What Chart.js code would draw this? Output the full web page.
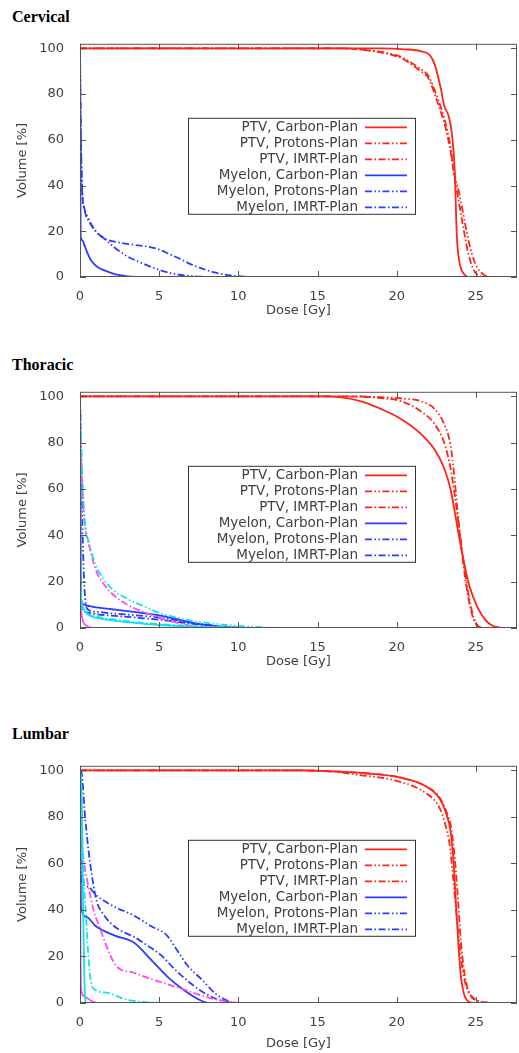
<!DOCTYPE html>
<html>
<head>
<meta charset="utf-8">
<script src="https://cdn.jsdelivr.net/npm/chart.js@4.4.1/dist/chart.umd.min.js"></script>
<style>
  html, body { margin: 0; padding: 0; background: #fff; }
  body { width: 519px; height: 1053px; position: relative; overflow: hidden; }
  .title { position: absolute; left: 12px; font: bold 16px "Liberation Serif", "Times New Roman", serif; line-height: 16px; color: #000; }
  .panel { position: absolute; left: 0; }
</style>
</head>
<body>
<div class="title" style="top:9px">Cervical</div>
<div class="title" style="top:357px">Thoracic</div>
<div class="title" style="top:726px">Lumbar</div>
<canvas id="cervical" class="panel" width="519" height="292" style="top:28px"></canvas>
<canvas id="thoracic" class="panel" width="519" height="295" style="top:376px"></canvas>
<canvas id="lumbar" class="panel" width="519" height="303" style="top:750px"></canvas>
<script>
// Axis ticks and legend text
const doseTicks = [0, 5, 10, 15, 20, 25];
const volumeTicks = [0, 20, 40, 60, 80, 100];
const legendLabels = [
  'PTV, Carbon-Plan', 'PTV, Protons-Plan', 'PTV, IMRT-Plan',
  'Myelon, Carbon-Plan', 'Myelon, Protons-Plan', 'Myelon, IMRT-Plan'
];

// DVH curves, [dose Gy, volume %]
// Cervical
const cervPtvCarbon = [[0,100],[19,100],[20.5,99.6],[21.5,98.8],[22.1,97],[22.4,93],[22.6,88],[22.8,82],[23.0,75],[23.3,70],[23.5,62],[23.67,46],[23.8,18],[23.95,7],[24.1,3],[24.4,0.3],[24.6,0],[27.6,0]];
const cervPtvProtons = [[0,100],[16.5,100],[17.5,99.7],[19,98.5],[20,97],[20.5,95.5],[21.5,91],[22,88],[22.6,78],[23.1,67],[23.4,57],[23.6,47],[24,35],[24.3,24],[24.6,14],[24.9,7],[25.2,3],[25.5,1],[25.8,0.2],[26.2,0],[27.6,0]];
const cervPtvImrt = [[0,100],[16.5,100],[17.5,99.6],[19,98.2],[20,96.5],[20.5,95],[21.5,90],[22,87],[22.6,76],[23.1,65],[23.4,55],[23.6,46],[23.9,34],[24.2,22],[24.5,11],[24.8,4],[25.1,1],[25.4,0.2],[25.7,0],[27.6,0]];
const cervMyCarbon = [[0,100],[0.02,60],[0.04,18],[0.15,16],[0.3,13.5],[0.5,10],[0.7,7.2],[1.1,4.4],[1.5,3],[2,1.7],[2.5,0.8],[3,0.3],[3.5,0.05],[4,0],[27.6,0]];
const cervMyProtons = [[0,100],[0.05,65],[0.12,40],[0.25,31],[0.5,26],[1.0,20],[1.5,17],[2.2,12.8],[3,9],[4,5.8],[5,3.1],[6,1.3],[7,0.4],[8,0.05],[8.5,0],[27.6,0]];
const cervMyImrt = [[0,100],[0.06,60],[0.14,38],[0.3,29],[0.6,24],[1.0,20],[1.5,17],[2.5,15],[3.5,14],[4.5,13],[5,12],[5.5,10.5],[6.2,8.3],[7.2,5],[8.5,2],[9.5,0.7],[10.5,0.1],[11,0],[27.6,0]];

// Thoracic
const thorPtvCarbon = [[0,100],[15.5,100],[16.5,99.6],[17.7,98],[19,94.6],[20.25,90.4],[21.5,84],[22.4,77],[23,69],[23.4,60],[23.8,45],[24.2,30],[24.6,18],[25.1,9],[25.6,3.5],[26,1.2],[26.5,0.2],[27,0],[27.6,0]];
const thorPtvProtons = [[0,100],[17,100],[19,99.7],[20.5,99],[21.5,98],[22.4,94.6],[23,88],[23.4,79],[23.65,65],[23.85,50],[24.2,30],[24.5,16],[24.8,6],[25.1,1.2],[25.4,0.1],[25.6,0],[27.6,0]];
const thorPtvImrt = [[0,100],[17,100],[19,99.3],[20.25,98],[21.5,93.7],[22.4,88],[23,80],[23.4,69],[23.85,48],[24.2,28],[24.5,14],[24.8,5],[25.1,0.8],[25.4,0.05],[25.6,0],[27.6,0]];
const thorMyCarbon = [[0,100],[0.03,40],[0.08,12],[0.3,10],[0.6,9.4],[1,8.9],[2,8.1],[3,7.3],[4,6.4],[5,5.5],[6,4],[7,2.3],[8,1.2],[9,0.5],[10,0.1],[11,0],[27.6,0]];
const thorMyProtons = [[0,100],[0.1,60],[0.2,32],[0.3,15],[0.5,8],[1,7],[2,6.3],[3,5.8],[4,5.2],[5,4.5],[6,3.5],[7,2.4],[8,1.4],[9,0.7],[10,0.2],[11,0],[27.6,0]];
const thorMyImrt = [[0,100],[0.04,30],[0.1,10],[0.3,7],[1,6],[2,5.3],[3,4.8],[4,4.2],[5,3.6],[6,2.8],[7,1.9],[8,1.1],[9,0.5],[10,0.1],[11,0],[27.6,0]];
const thorCyanSolid = [[0,100],[0.04,20],[0.1,11],[0.3,7.5],[0.6,5.5],[1,4.5],[2,3.3],[3,2.5],[4,1.8],[5,1.3],[6,0.9],[8,0.4],[10,0.1],[11,0],[27.6,0]];
const thorCyanProtons = [[0,100],[0.15,65],[0.3,47],[0.6,36],[1,27],[1.5,21],[2,17],[3,12.5],[4,9.5],[5,6.5],[6,4.7],[7,3.2],[8,2.2],[9,1.5],[10,0.9],[11,0.5],[12,0.2],[13,0],[27.6,0]];
const thorCyanImrt = [[0,100],[0.03,15],[0.15,8],[0.5,6],[1,5],[2,3.8],[4,2.2],[6,1.2],[8,0.5],[10,0.1],[11,0],[27.6,0]];
const thorMagSolid = [[0,100],[0.04,20],[0.12,5],[0.4,1],[0.8,0],[27.6,0]];
const thorMagImrt = [[0,100],[0.15,60],[0.3,45],[0.6,35],[1,25],[1.5,19],[2,15],[3,10],[4,7],[5,4.5],[6,2.5],[7,1],[8,0.3],[9,0],[27.6,0]];

// Lumbar
const lumbPtvCarbon = [[0,100],[14,100],[16,99.6],[18,98.8],[20.2,97],[21.9,93],[22.7,88],[23.1,82],[23.4,74],[23.6,60],[23.75,42],[23.9,25],[24.05,12],[24.25,4],[24.55,0.5],[24.9,0],[27.6,0]];
const lumbPtvProtons = [[0,100],[14,100],[16,99.5],[17.7,98],[20,95.5],[21.9,90],[22.7,84],[23.1,76],[23.35,68],[23.55,55],[23.75,40],[23.95,27],[24.15,15],[24.4,7],[24.8,2.5],[25.4,0.5],[26,0],[27.6,0]];
const lumbPtvImrt = [[0,100],[14,100],[16,99.6],[18,98.8],[20.2,97],[21.9,93],[22.7,88.5],[23.1,83],[23.45,75],[23.7,60],[23.9,42],[24.05,27],[24.3,12],[24.6,4],[25.1,1],[25.8,0.2],[26.3,0],[27.6,0]];
const lumbMyCarbon = [[0,100],[0.03,70],[0.06,42],[0.4,37],[1,33],[2.2,29],[3.4,26],[4.6,17.8],[5.6,10.8],[6.6,5.4],[7.6,1.2],[8.2,0],[27.6,0]];
const lumbMyProtons = [[0,100],[0.03,75],[0.08,53],[0.5,50],[1,46.5],[2,42],[3.4,37.6],[4.5,33],[5.5,29],[6.1,23],[6.8,16],[7.6,10.7],[8.6,3.8],[9.3,1],[9.8,0],[27.6,0]];
const lumbMyImrt = [[0,100],[0.1,99],[0.32,80],[0.63,60.6],[1.05,44],[1.5,38],[1.9,34.6],[2.6,31],[3.4,28.5],[4.3,24.5],[5.1,20.7],[6.1,13.7],[7.6,5.4],[8.65,1.6],[9.4,0.2],[9.8,0],[27.6,0]];
const lumbCyanSolid = [[0,100],[0.1,90],[0.2,40],[0.3,5],[0.4,0],[27.6,0]];
const lumbCyanImrt = [[0,100],[0.05,95],[0.2,60],[0.4,35],[0.55,18],[0.75,7.5],[1,5.5],[1.9,4.1],[2.9,1.5],[3.8,0.6],[4.8,0.1],[5.3,0],[27.6,0]];
const lumbMagSolid = [[0,100],[0.02,40],[0.05,7],[0.25,3],[0.5,1.9],[0.8,0.6],[1.1,0],[27.6,0]];
const lumbMagImrt = [[0,100],[0.1,72],[0.2,63],[0.42,54],[0.84,40.4],[1.27,32],[1.9,20.7],[2.3,15.8],[3.4,13],[4.2,11],[5.1,9],[6,7],[6.7,5.5],[7.9,2.7],[9,1],[9.7,0.3],[10.3,0],[27.6,0]];

const RED = '#ff2418';
const BLUE = '#2a3cff';
const CYAN = '#12e0ec';
const MAGENTA = '#ff48f0';
const SOLID = [];
const DASH_DOT_DOT = [7, 2.5, 1.5, 2.5, 1.5, 2.5];
const DASH_DOT = [7, 2.5, 1.5, 2.5];
const TEXT = '#404040';
const FONT = '"DejaVu Sans", sans-serif';

function curve(points, color, dash, order) {
  return {
    data: points.map(p => ({ x: p[0], y: p[1] })),
    borderColor: color,
    borderDash: dash,
    borderWidth: 1.8,
    pointRadius: 0,
    fill: false,
    cubicInterpolationMode: 'monotone',
    order: order
  };
}

// Frame with inward ticks on all four sides (gnuplot look)
const framePlugin = {
  id: 'frame',
  afterDatasetsDraw(chart) {
    const { ctx, chartArea: a, scales } = chart;
    ctx.save();
    ctx.strokeStyle = '#555';
    ctx.lineWidth = 1;
    ctx.strokeRect(a.left + 0.5, a.top + 0.5, a.right - a.left - 1, a.bottom - a.top - 1);
    ctx.beginPath();
    doseTicks.forEach(v => {
      const x = Math.round(scales.x.getPixelForValue(v)) + 0.5;
      ctx.moveTo(x, a.bottom); ctx.lineTo(x, a.bottom - 6);
      ctx.moveTo(x, a.top); ctx.lineTo(x, a.top + 6);
    });
    volumeTicks.forEach(v => {
      const y = Math.round(scales.y.getPixelForValue(v)) + 0.5;
      ctx.moveTo(a.left, y); ctx.lineTo(a.left + 6, y);
      ctx.moveTo(a.right, y); ctx.lineTo(a.right - 6, y);
    });
    ctx.stroke();
    ctx.restore();
  }
};

// Boxed legend inside the plot, text right-aligned, line sample on the right
const legendPlugin = {
  id: 'boxLegend',
  afterDraw(chart) {
    const { ctx, chartArea: a } = chart;
    const left = a.left + 108, top = a.top + 74;
    ctx.save();
    ctx.fillStyle = '#fff';
    ctx.fillRect(left, top, 227, 96);
    ctx.strokeStyle = '#333';
    ctx.lineWidth = 1;
    ctx.strokeRect(left + 0.5, top + 0.5, 227, 96);
    ctx.font = '13.5px ' + FONT;
    ctx.textAlign = 'right';
    ctx.textBaseline = 'middle';
    legendLabels.forEach((label, i) => {
      const ds = chart.data.datasets[i];
      const cy = top + 9.5 + i * 16;
      ctx.fillStyle = TEXT;
      ctx.fillText(label, left + 170, cy);
      ctx.strokeStyle = ds.borderColor;
      ctx.lineWidth = 1.8;
      ctx.setLineDash(ds.borderDash);
      ctx.beginPath();
      ctx.moveTo(left + 177, cy);
      ctx.lineTo(left + 219, cy);
      ctx.stroke();
      ctx.setLineDash([]);
    });
    ctx.restore();
  }
};

function makeChart(id, datasets, xAxisHeight) {
  return new Chart(document.getElementById(id), {
    type: 'line',
    data: { datasets: datasets },
    plugins: [framePlugin, legendPlugin],
    options: {
      responsive: false,
      animation: false,
      devicePixelRatio: 1,
      layout: { padding: { top: 7, right: 2, left: 0, bottom: 0 } },
      plugins: { legend: { display: false }, tooltip: { enabled: false } },
      scales: {
        x: {
          type: 'linear',
          min: 0,
          max: 27.6,
          grid: { display: false },
          border: { display: false },
          ticks: { stepSize: 5, includeBounds: false, color: TEXT, padding: 4, maxRotation: 0, font: { family: FONT, size: 13 } },
          title: { display: true, text: 'Dose [Gy]', color: TEXT, padding: { top: 0, bottom: 2 }, font: { family: FONT, size: 13 } },
          afterFit(scale) { scale.height = xAxisHeight; }
        },
        y: {
          min: 0,
          max: 102,
          grid: { display: false },
          border: { display: false },
          ticks: { stepSize: 20, includeBounds: false, color: TEXT, padding: 8, font: { family: FONT, size: 13 } },
          title: { display: true, text: 'Volume [%]', color: TEXT, padding: { top: 15, bottom: 0 }, font: { family: FONT, size: 13 } },
          afterFit(scale) { scale.width = 80; }
        }
      }
    }
  });
}

makeChart('cervical', [
  curve(cervPtvCarbon, RED, SOLID, 1),
  curve(cervPtvProtons, RED, DASH_DOT_DOT, 1),
  curve(cervPtvImrt, RED, DASH_DOT, 1),
  curve(cervMyCarbon, BLUE, SOLID, 0),
  curve(cervMyProtons, BLUE, DASH_DOT_DOT, 0),
  curve(cervMyImrt, BLUE, DASH_DOT, 0)
], 43);

makeChart('thoracic', [
  curve(thorPtvCarbon, RED, SOLID, 2),
  curve(thorPtvProtons, RED, DASH_DOT_DOT, 2),
  curve(thorPtvImrt, RED, DASH_DOT, 2),
  curve(thorMyCarbon, BLUE, SOLID, 1),
  curve(thorMyProtons, BLUE, DASH_DOT_DOT, 1),
  curve(thorMyImrt, BLUE, DASH_DOT, 1),
  curve(thorCyanSolid, CYAN, SOLID, 0),
  curve(thorCyanProtons, CYAN, DASH_DOT_DOT, 0),
  curve(thorCyanImrt, CYAN, DASH_DOT, 0),
  curve(thorMagSolid, MAGENTA, SOLID, 0),
  curve(thorMagImrt, MAGENTA, DASH_DOT, 0)
], 43);

makeChart('lumbar', [
  curve(lumbPtvCarbon, RED, SOLID, 2),
  curve(lumbPtvProtons, RED, DASH_DOT_DOT, 2),
  curve(lumbPtvImrt, RED, DASH_DOT, 2),
  curve(lumbMyCarbon, BLUE, SOLID, 1),
  curve(lumbMyProtons, BLUE, DASH_DOT_DOT, 1),
  curve(lumbMyImrt, BLUE, DASH_DOT, 1),
  curve(lumbCyanSolid, CYAN, SOLID, 0),
  curve(lumbCyanImrt, CYAN, DASH_DOT, 0),
  curve(lumbMagSolid, MAGENTA, SOLID, 0),
  curve(lumbMagImrt, MAGENTA, DASH_DOT, 0)
], 50);
</script>
</body>
</html>
